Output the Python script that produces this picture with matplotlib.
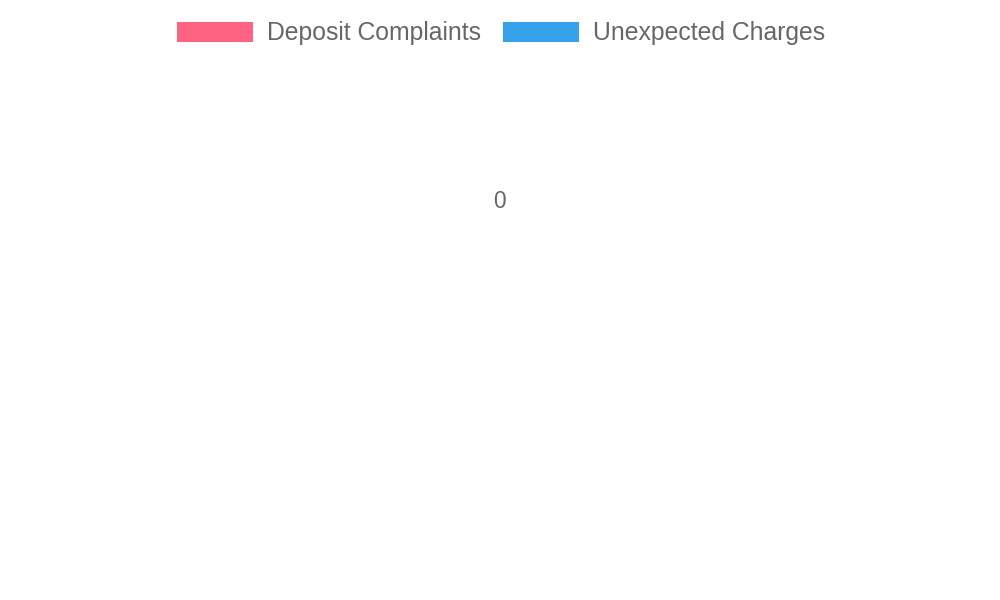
import numpy as np
from matplotlib import pyplot as plt
from matplotlib.patches import Patch

plt.rcParams['font.family'] = ['Liberation Sans', 'DejaVu Sans']

series_names = ['Deposit Complaints', 'Unexpected Charges']
series_colors = ['#FF6384', '#36A2EB']
categories = []  # no categories in the source chart
deposit_values = []
unexpected_values = []
scale_ticks = [0]

TEXT = '#666666'


def main():
    fig = plt.figure(figsize=(10, 6), dpi=100)

    # radial scale centred where the chart puts its single "0" tick
    ax = fig.add_axes([0.3495, 0.4134, 0.3, 0.5], projection='polar')
    n = max(len(categories), 1)
    angles = np.linspace(0, 2 * np.pi, n, endpoint=False)[:len(categories)]
    for vals, c in zip([deposit_values, unexpected_values], series_colors):
        if len(vals):
            ax.fill(angles, vals, color=c, alpha=0.2)
            ax.plot(angles, vals, color=c)
    ax.set_xticks([])
    ax.set_yticks([])
    ax.grid(False)
    ax.spines['polar'].set_visible(False)
    ax.patch.set_alpha(0)
    for t in scale_ticks:
        ax.text(0, t, str(t), ha='center', va='center',
                fontsize=16.3, color=TEXT)

    handles = [Patch(facecolor=c, edgecolor='none') for c in series_colors]
    leg = fig.legend(handles, series_names, loc='center',
                     bbox_to_anchor=(0.501, 0.9445), ncol=2, frameon=False,
                     fontsize=17.8, handlelength=3.08, handleheight=0.85,
                     handletextpad=0.57, columnspacing=0.89)
    for txt in leg.get_texts():
        txt.set_color(TEXT)

    fig.savefig('out.png')


if __name__ == '__main__':
    main()
